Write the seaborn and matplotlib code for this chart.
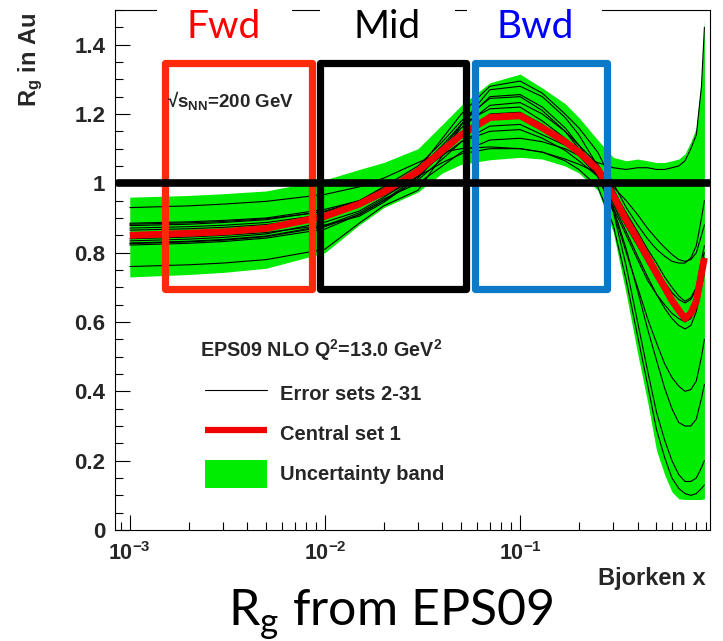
import numpy as np
import pandas as pd
import matplotlib
matplotlib.use("Agg")
import matplotlib.pyplot as plt
import seaborn as sns
from matplotlib.patches import Rectangle, Patch
from matplotlib.lines import Line2D
from matplotlib.ticker import FixedLocator, FixedFormatter, LogLocator, NullFormatter, MultipleLocator

# ---------------- data ----------------
X = [0.001, 0.002, 0.003, 0.005, 0.01, 0.015, 0.02, 0.03, 0.04, 0.05, 0.07, 0.1, 0.13,
     0.17, 0.2, 0.25, 0.3, 0.35, 0.4, 0.45, 0.5, 0.55, 0.6, 0.65, 0.7, 0.75, 0.8, 0.85, 0.88]

CENTRAL = [0.85, 0.856, 0.86, 0.87, 0.905, 0.94, 0.975, 1.035, 1.095, 1.14, 1.19, 1.195, 1.16,
           1.12, 1.09, 1.04, 0.965, 0.894, 0.838, 0.786, 0.74, 0.70, 0.662, 0.634, 0.61, 0.625, 0.66, 0.74, 0.785]

BAND_UPPER = [0.96, 0.965, 0.97, 0.978, 1.01, 1.04, 1.06, 1.10, 1.17, 1.225, 1.29, 1.315, 1.275,
              1.23, 1.19, 1.125, 1.075, 1.065, 1.07, 1.065, 1.06, 1.06, 1.065, 1.07, 1.085, 1.12, 1.16, 1.30, 1.47]

BAND_LOWER = [0.73, 0.737, 0.743, 0.755, 0.80, 0.88, 0.93, 0.975, 1.03, 1.055, 1.068, 1.075, 1.07,
              1.05, 1.03, 0.98, 0.86, 0.68, 0.51, 0.37, 0.23, 0.16, 0.11, 0.09, 0.088, 0.088, 0.088, 0.088, 0.09]

ERR_1 = [0.93, 0.935, 0.94, 0.948, 0.968, 0.99, 1.015, 1.06, 1.09, 1.10, 1.105, 1.10, 1.09,
         1.07, 1.055, 1.03, 0.99, 0.95, 0.91, 0.87, 0.84, 0.815, 0.795, 0.78, 0.775, 0.78, 0.80, 0.85, 0.88]
ERR_2 = [0.76, 0.765, 0.77, 0.78, 0.81, 0.885, 0.935, 0.98, 1.08, 1.17, 1.27, 1.28, 1.25,
         1.19, 1.14, 1.05, 0.92, 0.76, 0.60, 0.46, 0.34, 0.26, 0.20, 0.16, 0.14, 0.14, 0.15, 0.18, 0.20]
ERR_3 = [0.885, 0.889, 0.893, 0.90, 0.925, 0.95, 0.985, 1.04, 1.11, 1.17, 1.215, 1.22, 1.18,
         1.13, 1.09, 1.025, 0.94, 0.86, 0.79, 0.73, 0.68, 0.64, 0.61, 0.59, 0.58, 0.59, 0.63, 0.70, 0.74]
ERR_4 = [0.822, 0.827, 0.832, 0.842, 0.868, 0.91, 0.95, 1.01, 1.07, 1.12, 1.165, 1.17, 1.14,
         1.11, 1.085, 1.045, 0.98, 0.915, 0.86, 0.81, 0.77, 0.73, 0.70, 0.675, 0.66, 0.67, 0.70, 0.78, 0.82]
ERR_5 = [0.878, 0.882, 0.887, 0.895, 0.92, 0.95, 0.99, 1.05, 1.12, 1.18, 1.245, 1.25, 1.21,
         1.15, 1.10, 1.02, 0.92, 0.80, 0.70, 0.61, 0.54, 0.48, 0.44, 0.415, 0.40, 0.405, 0.43, 0.50, 0.55]
ERR_6 = [0.828, 0.833, 0.838, 0.848, 0.878, 0.915, 0.955, 1.0, 1.05, 1.09, 1.125, 1.13, 1.12,
         1.10, 1.08, 1.06, 1.045, 1.04, 1.045, 1.045, 1.04, 1.04, 1.045, 1.05, 1.065, 1.10, 1.14, 1.28, 1.45]
ERR_7 = [0.871, 0.875, 0.879, 0.887, 0.91, 0.94, 0.975, 1.04, 1.13, 1.20, 1.28, 1.295, 1.26,
         1.20, 1.16, 1.09, 1.0, 0.93, 0.88, 0.84, 0.81, 0.79, 0.775, 0.77, 0.77, 0.785, 0.82, 0.90, 0.95]
ERR_8 = [0.834, 0.839, 0.844, 0.854, 0.888, 0.92, 0.96, 1.02, 1.085, 1.135, 1.20, 1.205, 1.17,
         1.12, 1.08, 1.02, 0.93, 0.85, 0.78, 0.72, 0.68, 0.65, 0.625, 0.61, 0.60, 0.61, 0.64, 0.72, 0.76]
ERR_9 = [0.865, 0.869, 0.873, 0.881, 0.902, 0.935, 0.965, 1.02, 1.06, 1.085, 1.10, 1.10, 1.09,
         1.065, 1.04, 0.99, 0.88, 0.72, 0.56, 0.42, 0.29, 0.21, 0.15, 0.12, 0.105, 0.10, 0.105, 0.12, 0.13]
ERR_10 = [0.84, 0.845, 0.85, 0.858, 0.88, 0.905, 0.945, 1.015, 1.095, 1.16, 1.225, 1.233, 1.20,
          1.15, 1.11, 1.055, 0.985, 0.91, 0.85, 0.80, 0.755, 0.715, 0.685, 0.665, 0.655, 0.665, 0.695, 0.77, 0.80]
ERR_11 = [0.882, 0.886, 0.89, 0.898, 0.918, 0.945, 0.98, 1.03, 1.08, 1.12, 1.15, 1.155, 1.13,
          1.095, 1.065, 1.02, 0.945, 0.875, 0.82, 0.77, 0.73, 0.69, 0.655, 0.63, 0.615, 0.63, 0.66, 0.745, 0.785]
ERR_12 = [0.826, 0.831, 0.836, 0.846, 0.875, 0.91, 0.95, 1.02, 1.10, 1.17, 1.25, 1.256, 1.22,
          1.16, 1.11, 1.03, 0.93, 0.81, 0.69, 0.58, 0.49, 0.41, 0.35, 0.31, 0.30, 0.30, 0.32, 0.38, 0.42]
ERROR_SETS = [ERR_1, ERR_2, ERR_3, ERR_4, ERR_5, ERR_6, ERR_7, ERR_8, ERR_9, ERR_10, ERR_11, ERR_12]

REGION_NAMES = ["Fwd", "Mid", "Bwd"]
REGION_X_LO = [0.00152, 0.00943, 0.0585]
REGION_X_HI = [0.00858, 0.0526, 0.280]
REGION_Y_LO = 0.695
REGION_Y_HI = 1.346

XTICKS = [1e-3, 1e-2, 1e-1]
XTICK_LABELS = [r"$\mathbf{10^{-3}}$", r"$\mathbf{10^{-2}}$", r"$\mathbf{10^{-1}}$"]
YTICKS = [0, 0.2, 0.4, 0.6, 0.8, 1.0, 1.2, 1.4]
YTICK_LABELS = ["0", "0.2", "0.4", "0.6", "0.8", "1", "1.2", "1.4"]

LEGEND_LABELS = ["Error sets 2-31", "Central set 1", "Uncertainty band"]

# ---------------- style ----------------
sns.set_theme(style="white")
plt.rcParams["font.family"] = ["Liberation Sans", "DejaVu Sans"]
plt.rcParams["font.weight"] = "normal"
plt.rcParams["mathtext.fontset"] = "custom"
plt.rcParams["mathtext.rm"] = "Liberation Sans:bold"
plt.rcParams["mathtext.bf"] = "Liberation Sans:bold"
plt.rcParams["mathtext.it"] = "Liberation Sans:bold:italic"
plt.rcParams["mathtext.sf"] = "Lato:weight=normal"

GREEN = "#00ec00"
RED = "#f00000"
BOX_COLORS = ["#ff2a0a", "#000000", "#0a7ac8"]
TEXT_COLORS = ["#ff0000", "#000000", "#0000ff"]

W, H = 723, 641
fig = plt.figure(figsize=(W / 100, H / 100), dpi=100)
fig.patch.set_facecolor("white")
ax = fig.add_axes([115 / W, 1 - 530 / H, 595 / W, 520 / H])
ax.set_facecolor("white")

# band
ax.fill_between(X, BAND_LOWER, BAND_UPPER, color=GREEN, linewidth=0, zorder=1)

# error sets
rows = []
for i, s in enumerate(ERROR_SETS):
    for xv, yv in zip(X, s):
        rows.append({"x": xv, "R": yv, "set": i})
err_df = pd.DataFrame(rows)
sns.lineplot(data=err_df, x="x", y="R", units="set", estimator=None, color="black",
             linewidth=0.8, ax=ax, legend=False, sort=False, zorder=2)

# central
cen_df = pd.DataFrame({"x": X, "R": CENTRAL})
sns.lineplot(data=cen_df, x="x", y="R", color=RED, linewidth=5, ax=ax, legend=False,
             sort=False, zorder=3, solid_capstyle="butt")

ax.set_xscale("log")
ax.set_xlim(0.00084, 0.94)
ax.set_ylim(0, 1.5)

# region boxes
for lo, hi, col in zip(REGION_X_LO, REGION_X_HI, BOX_COLORS):
    ax.add_patch(Rectangle((lo, REGION_Y_LO), hi - lo, REGION_Y_HI - REGION_Y_LO,
                           fill=False, edgecolor=col, linewidth=5.2, joinstyle="round",
                           zorder=4))

# unity line
ax.axhline(1.0, xmin=0.005, xmax=1.0, color="black", linewidth=5.5, zorder=5)

# ticks
ax.xaxis.set_major_locator(FixedLocator(XTICKS))
ax.xaxis.set_major_formatter(FixedFormatter(XTICK_LABELS))
ax.xaxis.set_minor_locator(LogLocator(base=10, subs=np.arange(2, 10), numticks=20))
ax.xaxis.set_minor_formatter(NullFormatter())
ax.yaxis.set_major_locator(FixedLocator(YTICKS))
ax.yaxis.set_major_formatter(FixedFormatter(YTICK_LABELS))
ax.yaxis.set_minor_locator(MultipleLocator(0.05))
ax.tick_params(axis="both", which="both", direction="in", bottom=True, left=True,
               top=False, right=False, color="black", width=0.8)
ax.tick_params(axis="both", which="major", length=11)
ax.tick_params(axis="both", which="minor", length=6)
ax.tick_params(axis="y", which="major", labelsize=16, pad=7)
ax.tick_params(axis="x", which="major", labelsize=15.5, pad=9)
for lab in ax.get_xticklabels() + ax.get_yticklabels():
    lab.set_fontweight("bold")
for sp in ax.spines.values():
    sp.set_color("black")
    sp.set_linewidth(0.8)
    sp.set_visible(True)

ax.set_xlabel("Bjorken x", fontsize=17, fontweight="bold", loc="right")
ax.xaxis.set_label_coords(0.992, -0.072)
ax.set_ylabel(r"R$_{\mathbf{g}}$ in Au", fontsize=17, fontweight="bold", loc="top")
ax.yaxis.set_label_coords(-0.117, 0.995)

# annotations inside
ax.text(0.00156, 1.239, "$\u221a\\mathbf{s}_{\\mathbf{NN}}$=200 GeV", fontsize=13.5,
        fontweight="bold", ha="left", va="center", zorder=6)
ax.text(0.00228, 0.519, r"EPS09 NLO Q$^{\mathbf{2}}$=13.0 GeV$^{\mathbf{2}}$", fontsize=14.2,
        fontweight="bold", ha="left", va="center", zorder=6)

handles = [Line2D([], [], color="black", linewidth=0.8),
           Line2D([], [], color=RED, linewidth=4.5, solid_capstyle="butt"),
           Patch(facecolor=GREEN, edgecolor="none")]
fs_pt = 14.5
fs_px = fs_pt * 100 / 72
leg = ax.legend(handles, LEGEND_LABELS, loc="upper left",
                bbox_to_anchor=(205 / W, 1 - 379.5 / H), bbox_transform=fig.transFigure,
                frameon=False, borderpad=0, borderaxespad=0,
                handlelength=62 / fs_px, handleheight=35 / fs_px,
                handletextpad=13 / fs_px, labelspacing=12.5 / fs_px,
                prop={"family": "Liberation Sans", "weight": "bold", "size": fs_pt})

# white gaps over the top frame, behind region labels
for x0, x1 in [(157, 292), (320, 455), (467, 602)]:
    fig.add_artist(Rectangle((x0 / W, 1 - 48 / H), (x1 - x0) / W, 48 / H,
                             transform=fig.transFigure, facecolor="white",
                             edgecolor="none", zorder=10))

# region labels
for name, cx, col in zip(REGION_NAMES, [224, 387, 535], TEXT_COLORS):
    fig.text(cx / W, 1 - 38 / H, name, color=col, fontsize=28, family="Lato",
             fontweight="normal", ha="center", va="baseline", zorder=11)

# slide caption
fig.text(391 / W, 1 - 625 / H, r"$\mathsf{R}_{\mathsf{g}}$ from EPS09", family="Lato",
         fontweight="normal", fontsize=36, ha="center", va="baseline", color="black")

fig.savefig("out.png", dpi=100, facecolor="white")
